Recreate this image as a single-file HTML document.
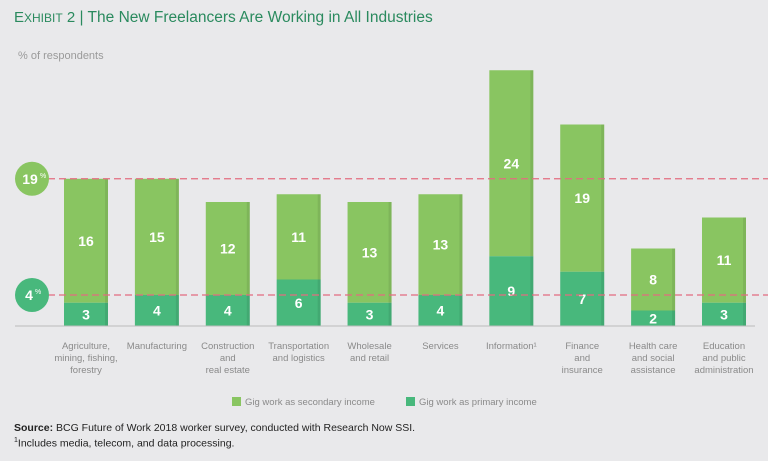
<!DOCTYPE html>
<html><head><meta charset="utf-8">
<style>
body{margin:0;width:768px;height:461px;background:#e9e9eb;font-family:"Liberation Sans",sans-serif;overflow:hidden;position:relative}
.t{position:absolute;white-space:nowrap}
</style></head>
<body>
<div class="t" style="left:14px;top:9px;font-size:15.5px;color:#2a8a5e"><span style="font-size:15px">E<span style="font-size:12px">XHIBIT</span> 2</span> | The New Freelancers Are Working in All Industries</div>
<div class="t" style="left:18px;top:50px;font-size:11px;color:#9a9a9a">% of respondents</div>
<svg id="c" width="768" height="461" style="position:absolute;left:0;top:0"></svg>
<div class="t" style="left:14px;top:422px;font-size:10.5px;color:#222"><b>Source:</b> BCG Future of Work 2018 worker survey, conducted with Research Now SSI.</div>
<div class="t" style="left:14px;top:437px;font-size:10.5px;color:#222"><sup style="font-size:7px">1</sup>Includes media, telecom, and data processing.</div>
<script>
const categories=[["Agriculture,","mining, fishing,","forestry"],["Manufacturing"],["Construction","and","real estate"],["Transportation","and logistics"],["Wholesale","and retail"],["Services"],["Information¹"],["Finance","and","insurance"],["Health care","and social","assistance"],["Education","and public","administration"]];
const primary=[3,4,4,6,3,4,9,7,2,3];
const secondary=[16,15,12,11,13,13,24,19,8,11];
const refLines=[19,4];
const NS="http://www.w3.org/2000/svg";
const svg=document.getElementById('c');
const y0=326,k=7.75;
const y=v=>y0-v*k;
const bw=44,x0=64,step=(746-bw-x0)/(categories.length-1);
const x=i=>x0+i*step;
function mk(t,a,p){const e=document.createElementNS(NS,t);for(const n in a)e.setAttribute(n,a[n]);(p||svg).appendChild(e);return e;}
const LIGHT="#89c561",DARK="#48b87c";
categories.forEach((c,i)=>{
  const g=mk('g',{});
  
  
  const tot=primary[i]+secondary[i];
  const s=mk('rect',{x:x(i),y:y(tot),width:bw,height:secondary[i]*k,fill:LIGHT},g);
  
  
  const p=mk('rect',{x:x(i),y:y(primary[i]),width:bw,height:primary[i]*k,fill:DARK},g);
  
  
  mk('rect',{x:x(i)+bw-3,y:y(tot),width:3,height:tot*k,fill:"#000",opacity:0.08},g);
  const t1=mk('text',{x:x(i)+bw/2,y:y(primary[i]+secondary[i]/2)+5,'text-anchor':'middle','font-size':14,'font-weight':'bold',fill:'#fff'},g);
  t1.textContent=secondary[i];
  
  
  const t2=mk('text',{x:x(i)+bw/2,y:y(primary[i]/2)+5,'text-anchor':'middle','font-size':14,'font-weight':'bold',fill:'#fff'},g);
  t2.textContent=primary[i];
  
  
  c.forEach((ln,j)=>{
    const tl=mk('text',{x:x(i)+bw/2,y:349+j*12,'text-anchor':'middle','font-size':9.5,fill:'#8a8a8a'},g);
    tl.textContent=ln;
    
    
  });
});
const base=mk('line',{x1:15,x2:755,y1:y0,y2:y0,stroke:'#bbb','stroke-width':1});


refLines.forEach((v,i)=>{
  const l=mk('line',{x1:48,x2:768,y1:y(v),y2:y(v),stroke:'#e36c80','stroke-width':1.2,'stroke-dasharray':'7,4'});
  
  
  const c=mk('circle',{cx:32,cy:y(v),r:17,fill:i==0?LIGHT:DARK});
  
  
  const t=mk('text',{x:v>9?30:29,y:y(v)+5,'text-anchor':'middle','font-size':14,'font-weight':'bold',fill:'#fff'});
  t.textContent=v;
  
  
  const ts=mk('text',{x:v>9?40:35,y:y(v)-1,'font-size':7,fill:'#fff'});
  ts.textContent='%';
  
  
});
[[232,LIGHT,"Gig work as secondary income"],[406,DARK,"Gig work as primary income"]].forEach(d=>{
  const r=mk('rect',{x:d[0],y:397,width:9,height:9,fill:d[1]});
  
  
  const t=mk('text',{x:d[0]+13,y:405,'font-size':9.5,fill:'#8a8a8a'});
  t.textContent=d[2];
  
  
});
</script>
</body></html>
